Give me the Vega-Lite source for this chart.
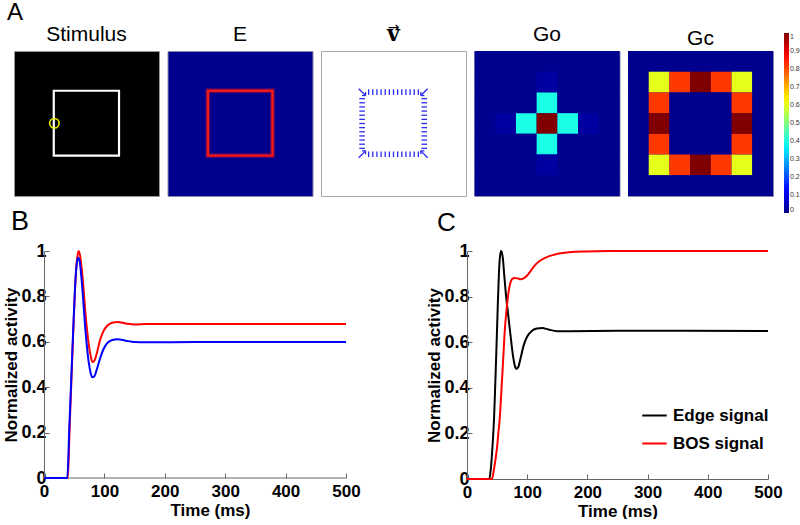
{
  "$schema": "https://vega.github.io/schema/vega-lite/v6.json",
  "padding": {"top": 0, "left": 2, "right": 0, "bottom": 0},
  "config": {
    "font": "Liberation Sans",
    "view": {"stroke": null},
    "title": {"font": "Liberation Sans", "fontSize": 21, "fontWeight": "normal", "color": "black", "offset": 6, "frame": "group"},
    "axis": {"labelFont": "Liberation Sans", "labelFontWeight": "bold", "labelFontSize": 17, "labelColor": "black", "titleFont": "Liberation Sans", "titleFontSize": 17, "titleFontWeight": "bold", "titleColor": "black", "domainColor": "#666", "tickColor": "#666", "grid": false, "tickSize": -5, "labelFlush": false, "labelOverlap": false, "labelPadding": 4},
    "legend": {"labelFont": "Liberation Sans"}
  },
  "spacing": -6,
  "resolve": {"scale": {"color": "independent", "x": "independent", "y": "independent"}, "legend": {"color": "independent"}},
  "vconcat": [
    {
      "title": {"text": "A", "anchor": "start", "fontSize": 24, "fontWeight": "normal", "dx": -7, "dy": 2, "offset": -2, "frame": "group"},
      "spacing": 6.5,
      "resolve": {"scale": {"color": "independent", "x": "independent", "y": "independent"}, "legend": {"color": "independent"}},
      "hconcat": [
        {
          "width": 145, "height": 145,
          "title": "Stimulus",
          "view": {"fill": "black", "stroke": "#999", "strokeWidth": 1},
          "layer": [
            {
              "data": {"values": [{"x": 1.92, "x2": 5.07, "y": 1.92, "y2": 5.05}]},
              "mark": {"type": "rect", "filled": false, "stroke": "white", "strokeWidth": 2.2},
              "encoding": {
                "x": {"field": "x", "type": "quantitative", "scale": {"domain": [0, 7]}, "axis": null},
                "x2": {"field": "x2"},
                "y": {"field": "y", "type": "quantitative", "scale": {"domain": [0, 7], "reverse": true}, "axis": null},
                "y2": {"field": "y2"}
              }
            },
            {
              "data": {"values": [{"x": 1.95, "y": 3.49}]},
              "mark": {"type": "point", "shape": "circle", "filled": false, "stroke": "#EEEE00", "strokeWidth": 1.6, "size": 90, "opacity": 1},
              "encoding": {
                "x": {"field": "x", "type": "quantitative", "scale": {"domain": [0, 7]}, "axis": null},
                "y": {"field": "y", "type": "quantitative", "scale": {"domain": [0, 7], "reverse": true}, "axis": null}
              }
            }
          ]
        },
        {
          "width": 145, "height": 145,
          "title": "E",
          "view": {"fill": "#00008F", "stroke": "#8888aa", "strokeWidth": 1},
          "data": {"values": [{"x": 1.95, "x2": 5.07, "y": 1.92, "y2": 5.05}]},
          "layer": [
            {
              "mark": {"type": "rect", "filled": false, "stroke": "#E8141C", "strokeWidth": 5, "opacity": 0.35},
              "encoding": {
                "x": {"field": "x", "type": "quantitative", "scale": {"domain": [0, 7]}, "axis": null},
                "x2": {"field": "x2"},
                "y": {"field": "y", "type": "quantitative", "scale": {"domain": [0, 7], "reverse": true}, "axis": null},
                "y2": {"field": "y2"}
              }
            },
            {
              "mark": {"type": "rect", "filled": false, "stroke": "#F01818", "strokeWidth": 2.4},
              "encoding": {
                "x": {"field": "x", "type": "quantitative", "scale": {"domain": [0, 7]}, "axis": null},
                "x2": {"field": "x2"},
                "y": {"field": "y", "type": "quantitative", "scale": {"domain": [0, 7], "reverse": true}, "axis": null},
                "y2": {"field": "y2"}
              }
            }
          ]
        },
        {
          "width": 145, "height": 145,
          "title": {"text": "→", "font": "DejaVu Sans", "fontWeight": "normal", "fontSize": 14, "subtitle": "v", "subtitleFont": "DejaVu Serif", "subtitleFontWeight": "bold", "subtitleFontSize": 22, "subtitleColor": "black", "subtitlePadding": -11, "offset": 6},
          "view": {"fill": "white", "stroke": "#aaaaaa", "strokeWidth": 1},
          "data": {"values": [
            {"x": 2.3, "y": 1.85, "x2": 2.3, "y2": 2.12}, {"x": 2.5, "y": 1.85, "x2": 2.5, "y2": 2.12}, {"x": 2.7, "y": 1.85, "x2": 2.7, "y2": 2.12}, {"x": 2.9, "y": 1.85, "x2": 2.9, "y2": 2.12}, {"x": 3.1, "y": 1.85, "x2": 3.1, "y2": 2.12}, {"x": 3.3, "y": 1.85, "x2": 3.3, "y2": 2.12}, {"x": 3.5, "y": 1.85, "x2": 3.5, "y2": 2.12}, {"x": 3.7, "y": 1.85, "x2": 3.7, "y2": 2.12}, {"x": 3.9, "y": 1.85, "x2": 3.9, "y2": 2.12}, {"x": 4.1, "y": 1.85, "x2": 4.1, "y2": 2.12}, {"x": 4.3, "y": 1.85, "x2": 4.3, "y2": 2.12}, {"x": 4.5, "y": 1.85, "x2": 4.5, "y2": 2.12}, {"x": 4.7, "y": 1.85, "x2": 4.7, "y2": 2.12},
            {"x": 2.3, "y": 5.12, "x2": 2.3, "y2": 4.85}, {"x": 2.5, "y": 5.12, "x2": 2.5, "y2": 4.85}, {"x": 2.7, "y": 5.12, "x2": 2.7, "y2": 4.85}, {"x": 2.9, "y": 5.12, "x2": 2.9, "y2": 4.85}, {"x": 3.1, "y": 5.12, "x2": 3.1, "y2": 4.85}, {"x": 3.3, "y": 5.12, "x2": 3.3, "y2": 4.85}, {"x": 3.5, "y": 5.12, "x2": 3.5, "y2": 4.85}, {"x": 3.7, "y": 5.12, "x2": 3.7, "y2": 4.85}, {"x": 3.9, "y": 5.12, "x2": 3.9, "y2": 4.85}, {"x": 4.1, "y": 5.12, "x2": 4.1, "y2": 4.85}, {"x": 4.3, "y": 5.12, "x2": 4.3, "y2": 4.85}, {"x": 4.5, "y": 5.12, "x2": 4.5, "y2": 4.85}, {"x": 4.7, "y": 5.12, "x2": 4.7, "y2": 4.85},
            {"x": 1.85, "y": 2.3, "x2": 2.12, "y2": 2.3}, {"x": 1.85, "y": 2.5, "x2": 2.12, "y2": 2.5}, {"x": 1.85, "y": 2.7, "x2": 2.12, "y2": 2.7}, {"x": 1.85, "y": 2.9, "x2": 2.12, "y2": 2.9}, {"x": 1.85, "y": 3.1, "x2": 2.12, "y2": 3.1}, {"x": 1.85, "y": 3.3, "x2": 2.12, "y2": 3.3}, {"x": 1.85, "y": 3.5, "x2": 2.12, "y2": 3.5}, {"x": 1.85, "y": 3.7, "x2": 2.12, "y2": 3.7}, {"x": 1.85, "y": 3.9, "x2": 2.12, "y2": 3.9}, {"x": 1.85, "y": 4.1, "x2": 2.12, "y2": 4.1}, {"x": 1.85, "y": 4.3, "x2": 2.12, "y2": 4.3}, {"x": 1.85, "y": 4.5, "x2": 2.12, "y2": 4.5}, {"x": 1.85, "y": 4.7, "x2": 2.12, "y2": 4.7},
            {"x": 5.12, "y": 2.3, "x2": 4.85, "y2": 2.3}, {"x": 5.12, "y": 2.5, "x2": 4.85, "y2": 2.5}, {"x": 5.12, "y": 2.7, "x2": 4.85, "y2": 2.7}, {"x": 5.12, "y": 2.9, "x2": 4.85, "y2": 2.9}, {"x": 5.12, "y": 3.1, "x2": 4.85, "y2": 3.1}, {"x": 5.12, "y": 3.3, "x2": 4.85, "y2": 3.3}, {"x": 5.12, "y": 3.5, "x2": 4.85, "y2": 3.5}, {"x": 5.12, "y": 3.7, "x2": 4.85, "y2": 3.7}, {"x": 5.12, "y": 3.9, "x2": 4.85, "y2": 3.9}, {"x": 5.12, "y": 4.1, "x2": 4.85, "y2": 4.1}, {"x": 5.12, "y": 4.3, "x2": 4.85, "y2": 4.3}, {"x": 5.12, "y": 4.5, "x2": 4.85, "y2": 4.5}, {"x": 5.12, "y": 4.7, "x2": 4.85, "y2": 4.7},
            {"x": 1.82, "y": 1.82, "x2": 2.15, "y2": 2.15}, {"x": 2.15, "y": 2.15, "x2": 1.98, "y2": 2.15}, {"x": 2.15, "y": 2.15, "x2": 2.15, "y2": 1.98},
            {"x": 5.15, "y": 1.82, "x2": 4.82, "y2": 2.15}, {"x": 4.82, "y": 2.15, "x2": 4.99, "y2": 2.15}, {"x": 4.82, "y": 2.15, "x2": 4.82, "y2": 1.98},
            {"x": 1.82, "y": 5.15, "x2": 2.15, "y2": 4.82}, {"x": 2.15, "y": 4.82, "x2": 1.98, "y2": 4.82}, {"x": 2.15, "y": 4.82, "x2": 2.15, "y2": 4.99},
            {"x": 5.15, "y": 5.15, "x2": 4.82, "y2": 4.82}, {"x": 4.82, "y": 4.82, "x2": 4.99, "y2": 4.82}, {"x": 4.82, "y": 4.82, "x2": 4.82, "y2": 4.99}
          ]},
          "mark": {"type": "rule", "color": "#2a2af2", "strokeWidth": 1.3},
          "encoding": {
            "x": {"field": "x", "type": "quantitative", "scale": {"domain": [0, 7]}, "axis": null},
            "x2": {"field": "x2"},
            "y": {"field": "y", "type": "quantitative", "scale": {"domain": [0, 7], "reverse": true}, "axis": null},
            "y2": {"field": "y2"}
          }
        },
        {
          "width": 145, "height": 145,
          "title": "Go",
          "view": {"fill": "#00008F", "stroke": "#8888aa", "strokeWidth": 1},
          "data": {"values": [
            {"i": 0, "j": 0, "v": 0}, {"i": 1, "j": 0, "v": 0}, {"i": 2, "j": 0, "v": 0}, {"i": 3, "j": 0, "v": 0}, {"i": 4, "j": 0, "v": 0}, {"i": 5, "j": 0, "v": 0}, {"i": 6, "j": 0, "v": 0},
            {"i": 0, "j": 1, "v": 0}, {"i": 1, "j": 1, "v": 0}, {"i": 2, "j": 1, "v": 0}, {"i": 3, "j": 1, "v": 0.02}, {"i": 4, "j": 1, "v": 0}, {"i": 5, "j": 1, "v": 0}, {"i": 6, "j": 1, "v": 0},
            {"i": 0, "j": 2, "v": 0}, {"i": 1, "j": 2, "v": 0}, {"i": 2, "j": 2, "v": 0}, {"i": 3, "j": 2, "v": 0.4}, {"i": 4, "j": 2, "v": 0}, {"i": 5, "j": 2, "v": 0}, {"i": 6, "j": 2, "v": 0},
            {"i": 0, "j": 3, "v": 0}, {"i": 1, "j": 3, "v": 0.02}, {"i": 2, "j": 3, "v": 0.4}, {"i": 3, "j": 3, "v": 1.0}, {"i": 4, "j": 3, "v": 0.4}, {"i": 5, "j": 3, "v": 0.02}, {"i": 6, "j": 3, "v": 0},
            {"i": 0, "j": 4, "v": 0}, {"i": 1, "j": 4, "v": 0}, {"i": 2, "j": 4, "v": 0}, {"i": 3, "j": 4, "v": 0.4}, {"i": 4, "j": 4, "v": 0}, {"i": 5, "j": 4, "v": 0}, {"i": 6, "j": 4, "v": 0},
            {"i": 0, "j": 5, "v": 0}, {"i": 1, "j": 5, "v": 0}, {"i": 2, "j": 5, "v": 0}, {"i": 3, "j": 5, "v": 0.02}, {"i": 4, "j": 5, "v": 0}, {"i": 5, "j": 5, "v": 0}, {"i": 6, "j": 5, "v": 0},
            {"i": 0, "j": 6, "v": 0}, {"i": 1, "j": 6, "v": 0}, {"i": 2, "j": 6, "v": 0}, {"i": 3, "j": 6, "v": 0}, {"i": 4, "j": 6, "v": 0}, {"i": 5, "j": 6, "v": 0}, {"i": 6, "j": 6, "v": 0}
          ]},
          "mark": {"type": "rect"},
          "encoding": {
            "x": {"field": "i", "type": "ordinal", "scale": {"domain": [0, 1, 2, 3, 4, 5, 6], "paddingInner": 0, "paddingOuter": 0}, "axis": null},
            "y": {"field": "j", "type": "ordinal", "scale": {"domain": [0, 1, 2, 3, 4, 5, 6], "paddingInner": 0, "paddingOuter": 0}, "axis": null},
            "color": {"field": "v", "type": "quantitative", "scale": {"type": "linear", "interpolate": "rgb", "domain": [0, 0.125, 0.375, 0.625, 0.875, 1], "range": ["#00008F", "#0000FF", "#00FFFF", "#FFFF00", "#FF0000", "#800000"]}, "legend": null}
          }
        },
        {
          "width": 145, "height": 145,
          "title": {"text": "Gc", "offset": -16},
          "view": {"fill": "#00008F", "stroke": "#8888aa", "strokeWidth": 1},
          "data": {"values": [
            {"i": 0, "j": 0, "v": 0}, {"i": 1, "j": 0, "v": 0}, {"i": 2, "j": 0, "v": 0}, {"i": 3, "j": 0, "v": 0}, {"i": 4, "j": 0, "v": 0}, {"i": 5, "j": 0, "v": 0}, {"i": 6, "j": 0, "v": 0},
            {"i": 0, "j": 1, "v": 0}, {"i": 1, "j": 1, "v": 0.6}, {"i": 2, "j": 1, "v": 0.82}, {"i": 3, "j": 1, "v": 1.0}, {"i": 4, "j": 1, "v": 0.82}, {"i": 5, "j": 1, "v": 0.6}, {"i": 6, "j": 1, "v": 0},
            {"i": 0, "j": 2, "v": 0}, {"i": 1, "j": 2, "v": 0.82}, {"i": 2, "j": 2, "v": 0}, {"i": 3, "j": 2, "v": 0}, {"i": 4, "j": 2, "v": 0}, {"i": 5, "j": 2, "v": 0.82}, {"i": 6, "j": 2, "v": 0},
            {"i": 0, "j": 3, "v": 0}, {"i": 1, "j": 3, "v": 1.0}, {"i": 2, "j": 3, "v": 0}, {"i": 3, "j": 3, "v": 0}, {"i": 4, "j": 3, "v": 0}, {"i": 5, "j": 3, "v": 1.0}, {"i": 6, "j": 3, "v": 0},
            {"i": 0, "j": 4, "v": 0}, {"i": 1, "j": 4, "v": 0.82}, {"i": 2, "j": 4, "v": 0}, {"i": 3, "j": 4, "v": 0}, {"i": 4, "j": 4, "v": 0}, {"i": 5, "j": 4, "v": 0.82}, {"i": 6, "j": 4, "v": 0},
            {"i": 0, "j": 5, "v": 0}, {"i": 1, "j": 5, "v": 0.6}, {"i": 2, "j": 5, "v": 0.82}, {"i": 3, "j": 5, "v": 1.0}, {"i": 4, "j": 5, "v": 0.82}, {"i": 5, "j": 5, "v": 0.6}, {"i": 6, "j": 5, "v": 0},
            {"i": 0, "j": 6, "v": 0}, {"i": 1, "j": 6, "v": 0}, {"i": 2, "j": 6, "v": 0}, {"i": 3, "j": 6, "v": 0}, {"i": 4, "j": 6, "v": 0}, {"i": 5, "j": 6, "v": 0}, {"i": 6, "j": 6, "v": 0}
          ]},
          "mark": {"type": "rect"},
          "encoding": {
            "x": {"field": "i", "type": "ordinal", "scale": {"domain": [0, 1, 2, 3, 4, 5, 6], "paddingInner": 0, "paddingOuter": 0}, "axis": null},
            "y": {"field": "j", "type": "ordinal", "scale": {"domain": [0, 1, 2, 3, 4, 5, 6], "paddingInner": 0, "paddingOuter": 0}, "axis": null},
            "color": {"field": "v", "type": "quantitative", "scale": {"type": "linear", "interpolate": "rgb", "domain": [0, 0.125, 0.375, 0.625, 0.875, 1], "range": ["#00008F", "#0000FF", "#00FFFF", "#FFFF00", "#FF0000", "#800000"]},
              "legend": {"orient": "none", "legendX": 156, "legendY": -18, "direction": "vertical", "title": null, "gradientLength": 180, "gradientThickness": 5, "gradientStrokeWidth": 0, "values": [0, 0.1, 0.2, 0.3, 0.4, 0.5, 0.6, 0.7, 0.8, 0.9, 1], "format": "~g", "labelFontSize": 7, "labelColor": "#333", "labelOffset": 1, "padding": 0}}
          }
        }
      ]
    },
    {
      "spacing": 64,
      "resolve": {"scale": {"color": "independent", "x": "independent", "y": "independent"}, "legend": {"color": "independent"}},
      "hconcat": [
        {
          "width": 332, "height": 227,
          "title": {"text": "B", "anchor": "start", "frame": "bounds", "fontSize": 27, "fontWeight": "normal", "offset": 6, "dx": 8},
          "layer": [
            {
              "data": {"values": [{"t": 0, "t2": 500, "v": 0}]},
              "mark": {"type": "rule", "color": "#666", "strokeWidth": 1},
              "encoding": {
                "x": {"field": "t", "type": "quantitative"},
                "x2": {"field": "t2"},
                "y": {"field": "v", "type": "quantitative"}
              }
            },
            {
              "data": {"values": [
                {"t": 0, "v": 0, "s": "red"}, {"t": 39.5, "v": 0, "s": "red"}, {"t": 42.5, "v": 0.23, "s": "red"}, {"t": 45.5, "v": 0.44, "s": "red"}, {"t": 48.5, "v": 0.65, "s": "red"}, {"t": 51.5, "v": 0.84, "s": "red"}, {"t": 54.5, "v": 0.96, "s": "red"}, {"t": 57.5, "v": 1.0, "s": "red"}, {"t": 60, "v": 0.975, "s": "red"}, {"t": 62.5, "v": 0.92, "s": "red"}, {"t": 65.5, "v": 0.83, "s": "red"}, {"t": 68.5, "v": 0.73, "s": "red"}, {"t": 71.5, "v": 0.645, "s": "red"}, {"t": 74.5, "v": 0.58, "s": "red"}, {"t": 77.5, "v": 0.535, "s": "red"}, {"t": 80, "v": 0.511, "s": "red"}, {"t": 83, "v": 0.515, "s": "red"}, {"t": 87, "v": 0.545, "s": "red"}, {"t": 92, "v": 0.6, "s": "red"}, {"t": 98, "v": 0.645, "s": "red"}, {"t": 105, "v": 0.672, "s": "red"}, {"t": 113, "v": 0.684, "s": "red"}, {"t": 122, "v": 0.687, "s": "red"}, {"t": 135, "v": 0.681, "s": "red"}, {"t": 150, "v": 0.676, "s": "red"}, {"t": 170, "v": 0.678, "s": "red"}, {"t": 250, "v": 0.678, "s": "red"}, {"t": 500, "v": 0.678, "s": "red"},
                {"t": 0, "v": 0, "s": "blue"}, {"t": 38.5, "v": 0, "s": "blue"}, {"t": 42, "v": 0.23, "s": "blue"}, {"t": 45, "v": 0.43, "s": "blue"}, {"t": 48, "v": 0.63, "s": "blue"}, {"t": 51, "v": 0.82, "s": "blue"}, {"t": 54, "v": 0.94, "s": "blue"}, {"t": 56.5, "v": 0.97, "s": "blue"}, {"t": 59, "v": 0.955, "s": "blue"}, {"t": 62, "v": 0.88, "s": "blue"}, {"t": 65, "v": 0.78, "s": "blue"}, {"t": 68, "v": 0.67, "s": "blue"}, {"t": 71, "v": 0.58, "s": "blue"}, {"t": 74, "v": 0.51, "s": "blue"}, {"t": 77, "v": 0.465, "s": "blue"}, {"t": 80, "v": 0.444, "s": "blue"}, {"t": 83, "v": 0.447, "s": "blue"}, {"t": 87, "v": 0.475, "s": "blue"}, {"t": 92, "v": 0.52, "s": "blue"}, {"t": 98, "v": 0.565, "s": "blue"}, {"t": 105, "v": 0.595, "s": "blue"}, {"t": 113, "v": 0.608, "s": "blue"}, {"t": 122, "v": 0.611, "s": "blue"}, {"t": 135, "v": 0.605, "s": "blue"}, {"t": 150, "v": 0.599, "s": "blue"}, {"t": 170, "v": 0.598, "s": "blue"}, {"t": 250, "v": 0.599, "s": "blue"}, {"t": 500, "v": 0.599, "s": "blue"}
              ]},
              "mark": {"type": "line", "strokeWidth": 2, "interpolate": "monotone"},
              "encoding": {
                "x": {"field": "t", "type": "quantitative", "scale": {"domain": [-49.7, 500], "nice": false, "zero": false}, "axis": {"title": "Time (ms)", "values": [0, 100, 200, 300, 400, 500], "titlePadding": 3, "labelPadding": 10, "domain": false, "titleX": 196}},
                "y": {"field": "v", "type": "quantitative", "scale": {"domain": [0, 1], "nice": false}, "axis": {"title": "Normalized activity", "values": [0, 0.2, 0.4, 0.6, 0.8, 1], "format": "~g", "titlePadding": 0, "labelFontSize": 18, "labelPadding": 3, "offset": -30}},
                "color": {"field": "s", "type": "nominal", "scale": {"domain": ["red", "blue"], "range": ["#FF0000", "#0000FF"]}, "legend": null}
              }
            }
          ]
        },
        {
          "width": 301, "height": 228,
          "title": {"text": "C", "anchor": "start", "frame": "bounds", "fontSize": 26, "fontWeight": "normal", "offset": 6, "dx": 11},
          "data": {"values": [
            {"t": 0, "v": 0, "s": "Edge signal"}, {"t": 37, "v": 0, "s": "Edge signal"}, {"t": 39, "v": 0.03, "s": "Edge signal"}, {"t": 41, "v": 0.09, "s": "Edge signal"}, {"t": 43, "v": 0.17, "s": "Edge signal"}, {"t": 45, "v": 0.27, "s": "Edge signal"}, {"t": 47, "v": 0.42, "s": "Edge signal"}, {"t": 49, "v": 0.58, "s": "Edge signal"}, {"t": 51, "v": 0.75, "s": "Edge signal"}, {"t": 53, "v": 0.9, "s": "Edge signal"}, {"t": 55, "v": 0.98, "s": "Edge signal"}, {"t": 57, "v": 1.0, "s": "Edge signal"}, {"t": 59.5, "v": 0.97, "s": "Edge signal"}, {"t": 62, "v": 0.89, "s": "Edge signal"}, {"t": 65, "v": 0.8, "s": "Edge signal"}, {"t": 68, "v": 0.73, "s": "Edge signal"}, {"t": 71, "v": 0.66, "s": "Edge signal"}, {"t": 74, "v": 0.59, "s": "Edge signal"}, {"t": 77, "v": 0.53, "s": "Edge signal"}, {"t": 80, "v": 0.492, "s": "Edge signal"}, {"t": 82, "v": 0.483, "s": "Edge signal"}, {"t": 85, "v": 0.49, "s": "Edge signal"}, {"t": 89, "v": 0.53, "s": "Edge signal"}, {"t": 94, "v": 0.585, "s": "Edge signal"}, {"t": 100, "v": 0.625, "s": "Edge signal"}, {"t": 108, "v": 0.65, "s": "Edge signal"}, {"t": 116, "v": 0.66, "s": "Edge signal"}, {"t": 125, "v": 0.662, "s": "Edge signal"}, {"t": 135, "v": 0.656, "s": "Edge signal"}, {"t": 150, "v": 0.648, "s": "Edge signal"}, {"t": 170, "v": 0.648, "s": "Edge signal"}, {"t": 250, "v": 0.65, "s": "Edge signal"}, {"t": 500, "v": 0.649, "s": "Edge signal"},
            {"t": 0, "v": 0, "s": "BOS signal"}, {"t": 41.5, "v": 0, "s": "BOS signal"}, {"t": 44, "v": 0.03, "s": "BOS signal"}, {"t": 47, "v": 0.08, "s": "BOS signal"}, {"t": 50, "v": 0.14, "s": "BOS signal"}, {"t": 52, "v": 0.2, "s": "BOS signal"}, {"t": 54.3, "v": 0.263, "s": "BOS signal"}, {"t": 57, "v": 0.38, "s": "BOS signal"}, {"t": 60, "v": 0.52, "s": "BOS signal"}, {"t": 63, "v": 0.66, "s": "BOS signal"}, {"t": 66, "v": 0.75, "s": "BOS signal"}, {"t": 69, "v": 0.82, "s": "BOS signal"}, {"t": 72, "v": 0.86, "s": "BOS signal"}, {"t": 75, "v": 0.877, "s": "BOS signal"}, {"t": 79, "v": 0.882, "s": "BOS signal"}, {"t": 84, "v": 0.88, "s": "BOS signal"}, {"t": 89, "v": 0.876, "s": "BOS signal"}, {"t": 94, "v": 0.88, "s": "BOS signal"}, {"t": 99, "v": 0.89, "s": "BOS signal"}, {"t": 105, "v": 0.91, "s": "BOS signal"}, {"t": 112, "v": 0.935, "s": "BOS signal"}, {"t": 120, "v": 0.955, "s": "BOS signal"}, {"t": 130, "v": 0.97, "s": "BOS signal"}, {"t": 142, "v": 0.982, "s": "BOS signal"}, {"t": 155, "v": 0.99, "s": "BOS signal"}, {"t": 170, "v": 0.995, "s": "BOS signal"}, {"t": 200, "v": 0.998, "s": "BOS signal"}, {"t": 240, "v": 1.0, "s": "BOS signal"}, {"t": 500, "v": 1.0, "s": "BOS signal"}
          ]},
          "mark": {"type": "line", "strokeWidth": 2, "interpolate": "monotone"},
          "encoding": {
            "x": {"field": "t", "type": "quantitative", "scale": {"domain": [0, 500]}, "axis": {"title": "Time (ms)", "values": [0, 100, 200, 300, 400, 500], "titlePadding": 3, "labelPadding": 10}},
            "y": {"field": "v", "type": "quantitative", "scale": {"domain": [0, 1]}, "axis": {"title": "Normalized activity", "values": [0, 0.2, 0.4, 0.6, 0.8, 1], "format": "~g", "titlePadding": 0, "labelFontSize": 18, "labelPadding": 3}},
            "color": {"field": "s", "type": "nominal", "scale": {"domain": ["Edge signal", "BOS signal"], "range": ["#000000", "#FF0000"]},
              "legend": {"orient": "none", "legendX": 174, "legendY": 151, "title": null, "symbolType": "stroke", "symbolSize": 600, "symbolStrokeWidth": 2, "labelFontSize": 17, "labelFontWeight": "bold", "labelColor": "black", "labelOffset": 5, "rowPadding": 6, "padding": 0}}
          }
        }
      ]
    }
  ]
}
